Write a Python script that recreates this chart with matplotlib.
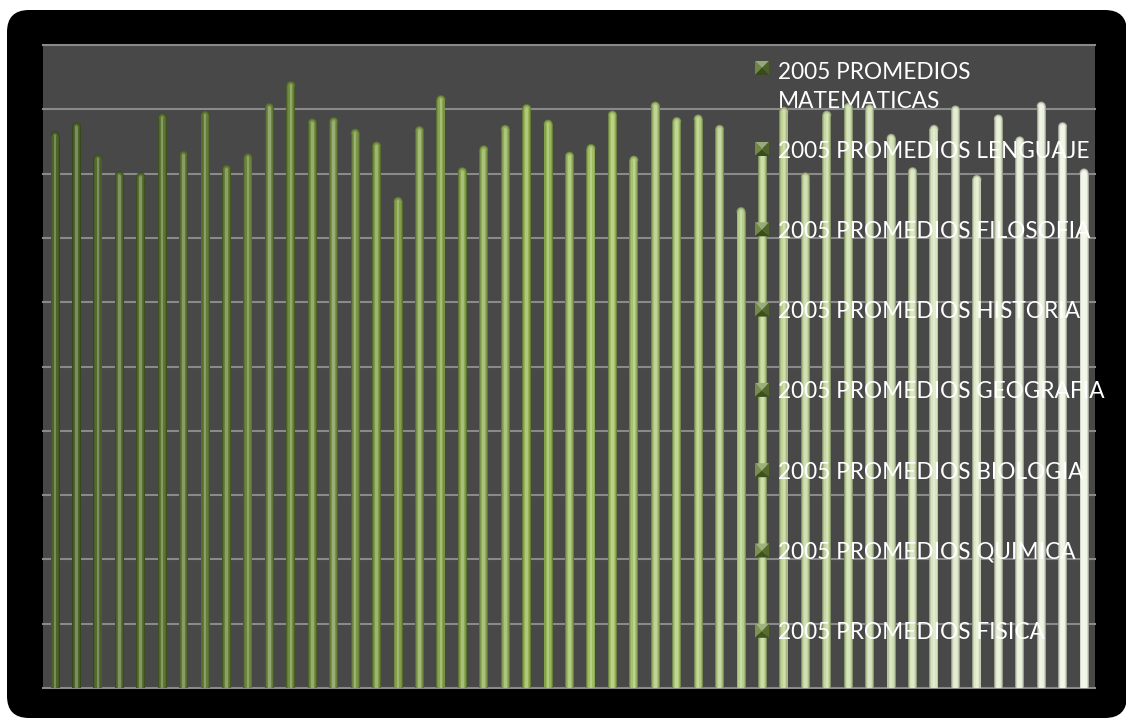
import textwrap
import numpy as np
import matplotlib.pyplot as plt
from matplotlib.colors import LinearSegmentedColormap
from matplotlib.patches import FancyBboxPatch, Polygon

# promedios 2005, una barra por serie (49 series)
promedios = [4.33, 4.40, 4.15, 4.02, 4.01, 4.47, 4.18, 4.49, 4.07, 4.16,
             4.55, 4.72, 4.43, 4.44, 4.35, 4.25, 3.82, 4.37, 4.61, 4.05,
             4.22, 4.38, 4.54, 4.42, 4.17, 4.23, 4.49, 4.14, 4.56, 4.44,
             4.46, 4.38, 3.74, 4.20, 4.52, 4.01, 4.49, 4.55, 4.54, 4.31,
             4.05, 4.38, 4.53, 3.99, 4.46, 4.29, 4.56, 4.40, 4.04]
leyenda = ['2005 PROMEDIOS MATEMATICAS', '2005 PROMEDIOS LENGUAJE',
           '2005 PROMEDIOS FILOSOFIA', '2005 PROMEDIOS HISTORIA',
           '2005 PROMEDIOS GEOGRAFIA', '2005 PROMEDIOS BIOLOGIA',
           '2005 PROMEDIOS QUIMICA', '2005 PROMEDIOS FISICA']

W, H = 1126, 718
def px(x, y):
    return (x / W, 1 - y / H)

fig = plt.figure(figsize=(W / 100, H / 100), dpi=100)
fig.patch.set_facecolor('white')

# marco negro redondeado
marco = FancyBboxPatch(px(7, 718), 1120 / W, 708 / H,
                       boxstyle='round,pad=0,rounding_size=%f' % (22 / W),
                       mutation_aspect=W / H, transform=fig.transFigure,
                       facecolor='black', edgecolor='none', zorder=-5)
fig.patches.append(marco)

ax = fig.add_axes([43 / W, 30 / H, 1052 / W, 643 / H])
ax.set_zorder(1)
ax.set_facecolor('#484848')
for s in ax.spines.values():
    s.set_visible(False)
n = len(promedios)
x = np.arange(n)
ax.set_xlim(-0.56, n - 1 + 0.51)
ax.set_ylim(0, 5)
ax.set_yticks(np.arange(0, 5.01, 0.5))
ax.tick_params(left=False, bottom=False, labelleft=False, labelbottom=False)
ax.yaxis.grid(True, color='#8a8a8a', linewidth=1.5)
ax.set_axisbelow(True)
for g in ax.get_ygridlines():
    g.set_clip_on(False)

cmap = LinearSegmentedColormap.from_list('oliva', ['#4d6428', '#9bbb59', '#f0f5e6'])
colores = cmap(np.linspace(0, 1, n))[:, :3]

# cilindros: capas de oscuro a claro con tapa redonda
px_x = ax.bbox.width / (ax.get_xlim()[1] - ax.get_xlim()[0])
px_y = ax.bbox.height / (ax.get_ylim()[1] - ax.get_ylim()[0])
vals = np.array(promedios)
capas = [(0.42, 0.0, 0.32), (0.34, 0.0, 0.12), (0.24, 0.0, 0.0), (0.12, 0.25, 0.0)]
r = 0.42 * px_x / 2
dy = r / px_y
for k, (w, claro, oscuro) in enumerate(capas):
    c = colores * (1 - claro) + claro
    c = c * (1 - oscuro)
    ax.bar(x, vals - dy, width=w, color=c, zorder=2 + k, linewidth=0)
    ax.scatter(x, vals - dy, s=(w * px_x * 0.72) ** 2, color=c, zorder=2 + k,
               linewidths=0)

# leyenda (encima de las barras, como en Excel)
paso = 31
for i, etiqueta in enumerate(leyenda):
    yc = 68 if i == 0 else 149 + 80.3 * (i - 1)
    c = colores[i] * 0.6 + np.array([0.48, 0.6, 0.25]) * 0.4
    x0, x1, y0, y1 = 755, 769, yc - 7, yc + 7
    xm, ym = (x0 + x1) / 2, yc
    caras = [([(x0, y0), (x1, y0), (xm, ym)], 0.35, 0.0),
             ([(x0, y0), (x0, y1), (xm, ym)], 0.1, 0.0),
             ([(x1, y0), (x1, y1), (xm, ym)], 0.0, 0.2),
             ([(x0, y1), (x1, y1), (xm, ym)], 0.0, 0.4)]
    for pts, claro, oscuro in caras:
        cc = (c * (1 - claro) + claro) * (1 - oscuro)
        ax.add_patch(Polygon([px(*p) for p in pts], closed=True,
                             transform=fig.transFigure, facecolor=cc,
                             edgecolor='none', zorder=20, clip_on=False))
    texto = textwrap.fill(etiqueta, 24)
    lineas = texto.count('\n')
    ax.text(778 / W, 1 - (yc + 8.5 + paso * lineas) / H, texto,
            transform=fig.transFigure, clip_on=False,
            color='white', fontsize=16.3, family='Lato', va='baseline',
            ha='left', linespacing=1.45, zorder=21)

fig.savefig('out.png', dpi=100, facecolor=fig.get_facecolor())
